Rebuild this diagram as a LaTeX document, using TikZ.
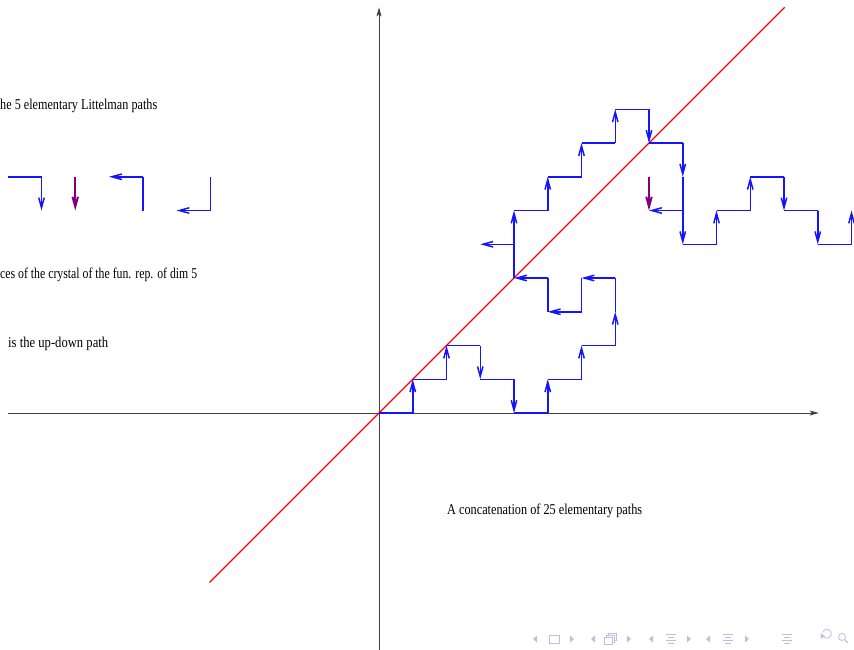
\documentclass[tikz,border=0pt]{standalone}
\usepackage{fontspec}
\setmainfont{Liberation Serif}
\usetikzlibrary{arrows.meta}
\definecolor{pathblue}{RGB}{20,20,255}
\definecolor{purp}{RGB}{128,0,128}
\definecolor{navc}{RGB}{190,190,228}
\tikzset{
 seg/.style={pathblue, line width=1.5pt},
 aseg/.style={seg, -{Straight Barb[length=10pt,width=5.5pt]}},
 pseg/.style={purp, line width=2pt, -{Straight Barb[length=10pt,width=5.5pt]}},
 axisline/.style={black!75, line width=1pt, -{Stealth[length=9pt,width=5pt,inset=2pt]}},
 diag/.style={red, line width=1.2pt},
 lbl/.style={anchor=base west, inner sep=0pt, font=\fontsize{15}{17}\selectfont},
 navfill/.style={navc, fill=navc},
 navline/.style={navc, line width=0.8pt},
}
\newcommand\lpath[3]{\draw[seg] #1 -- #2; \draw[aseg] #2 -- #3;}
\begin{document}
\begin{tikzpicture}[x=1pt,y=-1pt]
\useasboundingbox (0,0) rectangle (854,649);
\begin{scope}[shift={(379,413)}, x=33.75pt, y=33.75pt]
\coordinate (O) at (0,0);
\coordinate (xs) at (-11,0); \coordinate (xe) at (13.03,0);
\coordinate (ys) at (0,-7.2); \coordinate (ye) at (0,12.02);
\coordinate (ds) at (-5.02,-5.02); \coordinate (de) at (12.02,12.02);
\draw[axisline] (xs) -- (xe);
\draw[axisline] (ys) -- (ye);
\draw[diag] (ds) -- (de);
% the elementary paths on the left
\lpath{(-11,7)}{(-10,7)}{(-10,6)}
\draw[pseg] (-9,7) -- (-9,6);
\lpath{(-7,6)}{(-7,7)}{(-8,7)}
\lpath{(-5,7)}{(-5,6)}{(-6,6)}
% the concatenation
\lpath{(0,0)}{(1,0)}{(1,1)}
\lpath{(1,1)}{(2,1)}{(2,2)}
\lpath{(2,2)}{(3,2)}{(3,1)}
\lpath{(3,1)}{(4,1)}{(4,0)}
\lpath{(4,0)}{(5,0)}{(5,1)}
\lpath{(5,1)}{(6,1)}{(6,2)}
\lpath{(6,2)}{(7,2)}{(7,3)}
\lpath{(7,3)}{(7,4)}{(6,4)}
\lpath{(6,4)}{(6,3)}{(5,3)}
\lpath{(5,3)}{(5,4)}{(4,4)}
\lpath{(4,4)}{(4,5)}{(3,5)}
\draw[aseg] (4,5) -- (4,6);
\lpath{(4,6)}{(5,6)}{(5,7)}
\lpath{(5,7)}{(6,7)}{(6,8)}
\lpath{(6,8)}{(7,8)}{(7,9)}
\lpath{(7,9)}{(8,9)}{(8,8)}
\lpath{(8,8)}{(9,8)}{(9,7)}
\lpath{(9,7)}{(9,6)}{(8,6)}
\draw[pseg] (8,7) -- (8,6);
\draw[aseg] (9,6) -- (9,5);
\lpath{(9,5)}{(10,5)}{(10,6)}
\lpath{(10,6)}{(11,6)}{(11,7)}
\lpath{(11,7)}{(12,7)}{(12,6)}
\lpath{(12,6)}{(13,6)}{(13,5)}
\lpath{(13,5)}{(14,5)}{(14,6)}
\end{scope}
% texts
\node[lbl] (t1) at (0,109) {\resizebox{157pt}{\height}{he 5 elementary Littelman paths}};
\node[lbl] (t2) at (0,278) {\resizebox{197pt}{\height}{ces of the crystal of the fun. rep. of dim 5}};
\node[lbl] (t3) at (8,347) {\resizebox{100pt}{\height}{is the up-down path}};
\node[lbl] (t4) at (447,514) {\resizebox{195pt}{\height}{A concatenation of 25 elementary paths}};
% navigation symbols
\foreach \x in {535,593,651,708} {\fill[navfill] (\x+2,635.5) -- (\x-2,639) -- (\x+2,642.5) -- cycle;}
\foreach \x in {572,629,689,747} {\fill[navfill] (\x-2,635.5) -- (\x+2,639) -- (\x-2,642.5) -- cycle;}
\draw[navline] (549,635) rectangle (559,643);
\draw[navline] (604,637.5) rectangle (612,644);
\draw[navline] (606,637.5) -- (606,635.5) -- (614,635.5) -- (614,642) -- (612,642);
\draw[navline] (608,635.5) -- (608,633.5) -- (616,633.5) -- (616,640) -- (614,640);
\foreach \x in {671,728,787} {
  \draw[navline] (\x-5,634) -- (\x+5,634);
  \draw[navline] (\x-3,637) -- (\x+3,637);
  \draw[navline] (\x-5,640) -- (\x+5,640);
  \draw[navline] (\x-3,643) -- (\x+3,643);
}
\draw[navline] (823,636) arc[start angle=150, end angle=-150, radius=4.5];
\fill[navfill] (821,633) -- (825,636.5) -- (820.5,638.5) -- cycle;
\draw[navline] (842,637) circle[radius=3.5];
\draw[navline, line width=1.1pt] (844.5,639.5) -- (848,643);
\end{tikzpicture}
\end{document}
